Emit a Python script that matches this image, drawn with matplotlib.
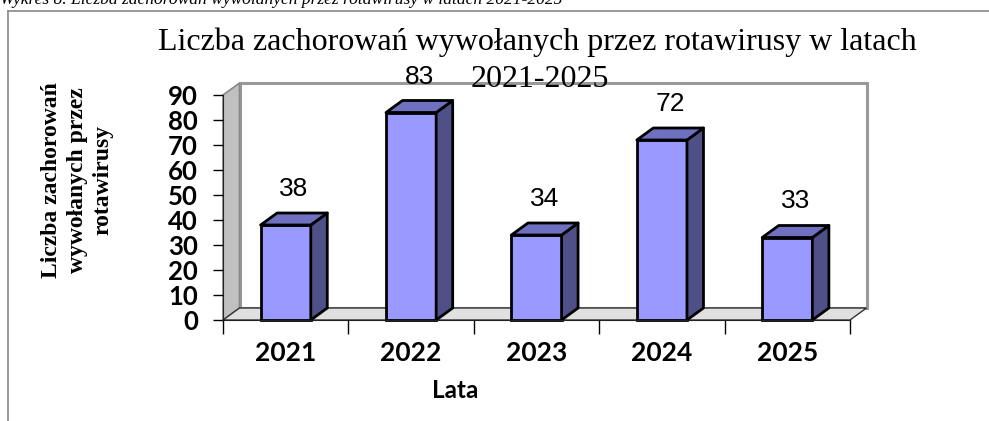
import numpy as np
import matplotlib.pyplot as plt
from matplotlib.patches import Polygon
from matplotlib.lines import Line2D

years = ['2021', '2022', '2023', '2024', '2025']
cases = [38, 83, 34, 72, 33]
yticks = list(range(0, 100, 10))

title_lines = ['Liczba zachorowań wywołanych przez rotawirusy w latach', '2021-2025']
caption = 'Wykres 8. Liczba zachorowań wywołanych przez rotawirusy w latach 2021-2025'
ylabel = 'Liczba zachorowań\nwywołanych przez\nrotawirusy'
xlabel = 'Lata'

W, H = 989, 421
fig = plt.figure(figsize=(W / 100, H / 100), dpi=100)

# outer frame + cut-off caption above it
fig.add_artist(Line2D([8 / W, 8 / W], [0, 1 - 11 / H], color='#888888', lw=1.2))
fig.add_artist(Line2D([8 / W, 1], [1 - 11 / H, 1 - 11 / H], color='#888888', lw=1.2))
fig.text(0, 1 - 4 / H, caption, family='Liberation Serif', style='italic',
         fontsize=12.6, va='baseline', ha='left')

# axes area in pixels: x 223..850, y 95..320
ax = fig.add_axes([223 / W, (H - 320) / H, (850 - 223) / W, (320 - 95) / H])
ax.set_xlim(0, 5)
ax.set_ylim(0, 90)
ax.patch.set_visible(False)

# depth of the 3D look, in data units (about 16px right, 12px up)
dx = 16.5 / (627 / 5)
dy = 12 / 2.5

wall_edge = '#999999'
ax.add_patch(Polygon([(dx, dy), (5 + dx, dy), (5 + dx, 90 + dy), (dx, 90 + dy)],
                     closed=True, fc='white', ec=wall_edge, lw=2.2, clip_on=False, zorder=0))
ax.add_patch(Polygon([(0, 0), (dx, dy), (dx, 90 + dy), (0, 90)],
                     closed=True, fc='#c0c0c0', ec='#888888', lw=1.2, clip_on=False, zorder=0.5))
ax.add_patch(Polygon([(0, 0), (5, 0), (5 + dx, dy), (dx, dy)],
                     closed=True, fc='#e0e0e0', ec='#333333', lw=1, clip_on=False, zorder=0.6))

# bars
xc = np.arange(len(years)) + 0.5
bw = 0.4
ax.bar(xc, cases, width=bw, color='#9999ff', edgecolor='black', linewidth=2,
       zorder=2, clip_on=False)
for x, v in zip(xc, cases):
    r = x + bw / 2
    l = x - bw / 2
    ax.add_patch(Polygon([(r, 0), (r + dx, dy), (r + dx, v + dy), (r, v)], closed=True,
                         fc='#505088', ec='black', lw=2, clip_on=False, zorder=2.1,
                         joinstyle='round'))
    ax.add_patch(Polygon([(l, v), (r, v), (r + dx, v + dy), (l + dx, v + dy)], closed=True,
                         fc='#7070c0', ec='black', lw=2, clip_on=False, zorder=2.1,
                         joinstyle='round'))
    ax.text(x + dx / 2, v + 11.6, str(v), ha='center', va='baseline',
            family='Liberation Sans', fontsize=19, clip_on=False, zorder=3)

# axes styling
for s in ['top', 'right']:
    ax.spines[s].set_visible(False)
ax.spines['left'].set_color('#222222')
ax.spines['bottom'].set_color('#222222')
ax.spines['left'].set_zorder(2.5)
ax.set_yticks(yticks)
ax.set_yticklabels([str(t) for t in yticks], family='Lato', fontweight='bold', fontsize=18.5)
ax.tick_params(axis='y', length=7, width=1, direction='out', pad=11)
ax.set_xticks(np.arange(0, 6), minor=True)
ax.set_xticks(xc)
ax.set_xticklabels(years, family='Lato', fontweight='bold', fontsize=19)
ax.tick_params(axis='x', which='major', length=0, pad=15)
ax.tick_params(axis='x', which='minor', length=10, width=1, direction='out')

fig.text(455 / W, 1 - 391 / H, xlabel, family='Lato', fontweight='bold', fontsize=17.5,
         ha='center', va='center')
fig.text(77 / W, 1 - 180 / H, ylabel, family='Liberation Serif', fontweight='bold',
         fontsize=17, rotation=90, ha='center', va='center', linespacing=1.3,
         multialignment='center')

fig.text(537 / W, 1 - 50 / H, title_lines[0], family='Liberation Serif', fontsize=23,
         ha='center', va='baseline', zorder=5)
fig.text(540 / W, 1 - 87 / H, title_lines[1], family='Liberation Serif', fontsize=23,
         ha='center', va='baseline', zorder=5)

fig.savefig('out.png', dpi=100)
